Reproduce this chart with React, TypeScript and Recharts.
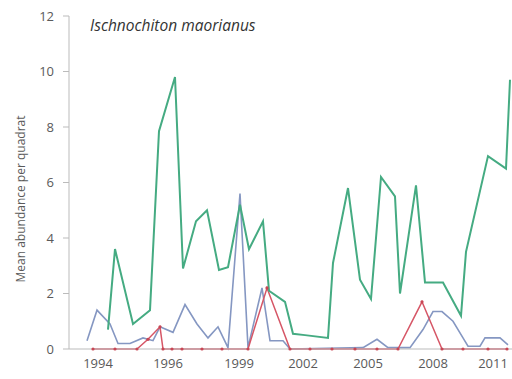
import React from 'react';
import { LineChart, Line, XAxis, YAxis } from 'recharts';

// Survey time (arbitrary survey-period units along the sampling sequence)
const greenTimes = [3.9, 4.6, 6.4, 8.1, 9.0, 10.6, 11.4, 12.7, 13.8, 15.0, 15.9, 17.1, 18.0, 19.4, 20.0, 21.6, 22.4, 23.6, 25.9, 26.4, 27.9, 29.1, 30.2, 31.2, 32.6, 33.1, 34.7, 35.6, 37.4, 39.2, 39.7, 41.9, 43.7, 44.1];
const greenValues = [0.7, 3.6, 0.9, 1.4, 7.85, 9.8, 2.9, 4.6, 5.0, 2.85, 2.95, 5.2, 3.6, 4.6, 2.1, 1.7, 0.55, 0.5, 0.4, 3.1, 5.8, 2.5, 1.8, 6.2, 5.5, 2.0, 5.9, 2.4, 2.4, 1.2, 3.5, 6.95, 6.5, 9.7];

const blueTimes = [1.8, 2.8, 4.1, 4.9, 6.1, 7.4, 8.4, 9.1, 10.4, 11.6, 12.8, 13.9, 14.9, 15.9, 17.1, 17.9, 19.3, 20.1, 21.4, 22.1, 29.4, 30.8, 31.9, 34.1, 35.4, 36.4, 37.3, 38.4, 39.4, 39.9, 41.1, 41.6, 43.1, 43.9];
const blueValues = [0.3, 1.4, 0.9, 0.2, 0.2, 0.4, 0.3, 0.8, 0.6, 1.6, 0.9, 0.4, 0.8, 0.05, 5.6, 0.05, 2.2, 0.3, 0.3, 0.0, 0.05, 0.35, 0.05, 0.05, 0.7, 1.35, 1.35, 1.0, 0.4, 0.1, 0.1, 0.4, 0.4, 0.15];

const redTimes = [2.4, 4.6, 6.8, 7.9, 9.1, 9.4, 10.3, 11.3, 13.3, 15.3, 17.9, 19.8, 22.1, 24.1, 26.3, 28.6, 30.8, 32.9, 35.3, 37.3, 39.4, 41.9, 43.8];
const redValues = [0, 0, 0, 0.35, 0.8, 0, 0, 0, 0, 0, 0, 2.2, 0, 0, 0, 0, 0, 0, 1.7, 0, 0, 0, 0];

const xTickTimes = [2.9, 9.9, 17.0, 23.4, 29.9, 36.4, 42.4];
const xTickLabels = ['1994', '1996', '1999', '2002', '2005', '2008', '2011'];
const yTicks = [0, 2, 4, 6, 8, 10, 12];

const title = 'Ischnochiton maorianus';
const yTitle = 'Mean abundance per quadrat';

const toData = (ts: number[], vs: number[]) => ts.map((t, i) => ({ t, v: vs[i] }));
const greenData = toData(greenTimes, greenValues);
const blueData = toData(blueTimes, blueValues);
const redData = toData(redTimes, redValues);

const FONT = '"Open Sans", sans-serif';

const YLabel = () => (
  <text
    x={20}
    y={199}
    transform="rotate(-90 20 199)"
    textAnchor="middle"
    dominantBaseline="central"
    fontFamily={FONT}
    fontSize={12}
    fill="#5a5a5a"
  >
    {yTitle}
  </text>
);

export default function App() {
  return (
    <div style={{ position: 'absolute', left: 0, top: 0, width: 512, height: 379, background: '#fff' }}>
      <LineChart width={512} height={379} margin={{ top: 16, right: 0, bottom: 0, left: 0 }}>
        <XAxis
          type="number"
          dataKey="t"
          domain={[0, 44.3]}
          allowDataOverflow
          ticks={xTickTimes}
          tickFormatter={(v: number) => xTickLabels[xTickTimes.indexOf(v)] ?? ''}
          height={30}
          tickLine={false}
          tickSize={0}
          tickMargin={10}
          axisLine={{ stroke: '#bbb' }}
          tick={{ fill: '#5a5a5a', fontSize: 13, fontFamily: FONT }}
          interval={0}
        />
        <YAxis
          type="number"
          domain={[0, 12]}
          ticks={yTicks}
          width={69}
          tickSize={6}
          tickMargin={9}
          axisLine={{ stroke: '#bbb' }}
          tickLine={{ stroke: '#bbb' }}
          tick={{ fill: '#5a5a5a', fontSize: 13, fontFamily: FONT }}
          interval={0}
          label={<YLabel />}
        />
        <Line data={blueData} dataKey="v" type="linear" stroke="#8597c2" strokeWidth={1.6} dot={false} isAnimationActive={false} />
        <Line data={redData} dataKey="v" type="linear" stroke="#d65666" strokeWidth={1.5} dot={{ r: 1.6, fill: '#c84654', stroke: 'none' }} isAnimationActive={false} />
        <Line data={greenData} dataKey="v" type="linear" stroke="#45ab82" strokeWidth={2} dot={false} isAnimationActive={false} />
      </LineChart>
      <div
        style={{
          position: 'absolute',
          left: 90,
          top: 15,
          fontFamily: FONT,
          fontStyle: 'italic',
          fontSize: 15.5,
          color: '#333',
          lineHeight: '20px',
          whiteSpace: 'nowrap',
        }}
      >
        {title}
      </div>
    </div>
  );
}
